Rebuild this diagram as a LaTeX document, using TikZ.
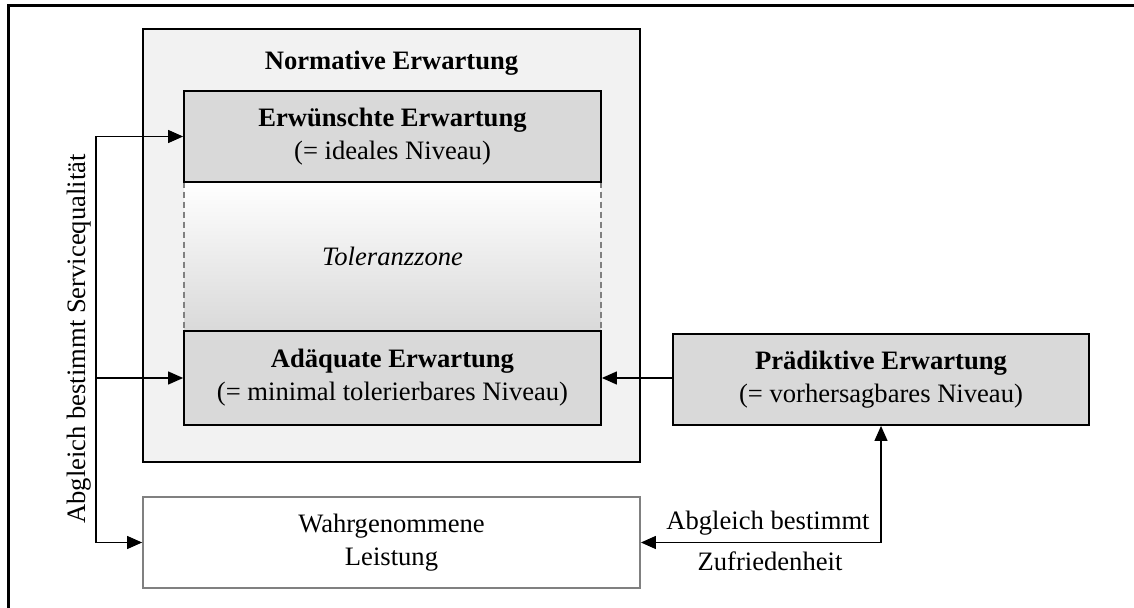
\documentclass[tikz,border=0pt]{standalone}
\usepackage{fontspec}
\setmainfont{Liberation Serif}
\usetikzlibrary{arrows.meta,calc}
\definecolor{paneFill}{HTML}{F2F2F2}
\definecolor{boxFill}{HTML}{D9D9D9}
\definecolor{rimGray}{HTML}{808080}
\begin{document}
\begin{tikzpicture}[x=0.5pt,y=-0.5pt,
  font=\fontsize{13.3}{16.5}\selectfont,
  box/.style={draw=black, line width=0.9pt, fill=boxFill, align=center,
    inner sep=0pt, minimum width=208.5pt},
  pane/.style={draw=black, line width=0.9pt, fill=paneFill, inner sep=0pt},
  conn/.style={draw=black, line width=0.6pt},
  arr/.style={conn, -{Triangle[length=7.5pt,width=6.5pt]}},
  biarr/.style={conn, {Triangle[length=7.5pt,width=6.5pt]}-{Triangle[length=7.5pt,width=6.5pt]}},
  lbl/.style={inner sep=0pt, align=center}]
\useasboundingbox (0,0) rectangle (1134,608);
\clip (0,0) rectangle (1134,608);
% outer frame, running past the right and lower edges
\draw[line width=1.5pt] (8,6) rectangle (1160,640);

% normative expectation pane
\node[pane, minimum width=248.5pt, minimum height=216.5pt] (norm) at (391.5,245.5) {};
\node[lbl, font=\fontsize{13.3}{16.5}\selectfont\bfseries] (normt) at (391.5,63) {Normative Erwartung};

% tolerance zone between desired and adequate level
\node[inner sep=0pt, minimum width=208.5pt, minimum height=74.5pt,
  top color=white, bottom color=boxFill] (tol) at (392.5,256.5) {};
\draw[rimGray, line width=1pt, dash pattern=on 3pt off 2pt]
  (tol.north west) -- (tol.south west) (tol.north east) -- (tol.south east);
\node[lbl, font=\fontsize{13.3}{16.5}\selectfont\itshape] (tolt) at (tol.center) {Toleranzzone};

\node[box, minimum height=45.5pt] (erw) at (392.5,136.5)
  {\textbf{Erwünschte Erwartung}\\(= ideales Niveau)};
\node[box, minimum height=47pt] (adq) at (392.5,378)
  {\textbf{Adäquate Erwartung}\\(= minimal tolerierbares Niveau)};
\node[box, minimum width=208pt, minimum height=45.5pt] (pred) at (881,379.5)
  {\textbf{Prädiktive Erwartung}\\(= vorhersagbares Niveau)};
\node[draw=rimGray, line width=0.9pt, fill=white, align=center, inner sep=0pt,
  minimum width=248.5pt, minimum height=45.5pt] (wahr) at (391.5,542.5)
  {Wahrgenommene\\Leistung};

% comparison links
\coordinate (lx) at (96,0);
\draw[conn] (erw.west -| lx) -- (wahr.west -| lx);
\draw[arr] (erw.west -| lx) -- (erw.west);
\draw[arr] (adq.west -| lx) -- (adq.west);
\draw[arr] (wahr.west -| lx) -- (wahr.west);
\draw[arr] (adq.east -| pred.west) -- (adq.east);
\draw[biarr] (wahr.east) -| (pred.south);

\node[lbl, rotate=90] (vlab) at (79,339) {Abgleich bestimmt Servicequalität};
\node[lbl] (zl1) at (768,523) {Abgleich bestimmt};
\node[lbl] (zl2) at (770,561) {Zufriedenheit};
\end{tikzpicture}
\end{document}
